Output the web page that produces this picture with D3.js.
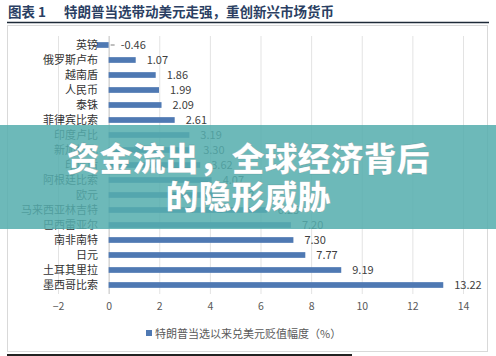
<!DOCTYPE html>
<html><head><meta charset="utf-8">
<script src="https://cdn.jsdelivr.net/npm/d3@7"></script>
<style>
html,body{margin:0;padding:0;background:#fff;}
svg{display:block;}
</style></head>
<body>
<svg id="c" width="496" height="356"></svg>
<script>
const categories = ["英镑","俄罗斯卢布","越南盾","人民币","泰铢","菲律宾比索","印度卢比","新加坡元","印尼盾","阿根廷比索","欧元","马来西亚林吉特","巴西雷亚尔","南非南特","日元","土耳其里拉","墨西哥比索"];
const values = [-0.46,1.07,1.86,1.99,2.09,2.61,3.19,3.30,3.62,4.07,4.48,6.25,7.20,7.30,7.77,9.19,13.22];
const tickValues = [-2,0,2,4,6,8,10,12,14];
const titleLabel = "图表 1";
const titleText = "特朗普当选带动美元走强，重创新兴市场货币";
const legendText = "特朗普当选以来兑美元贬值幅度（%）";
const bannerLines = ["资金流出，全球经济背后","的隐形威胁"];

const svg = d3.select("#c");
const font = "'Noto Sans CJK SC','Microsoft YaHei',sans-serif";

// title
svg.append("text").attr("x",8).attr("y",17).attr("font-family",font).attr("font-size",13.5)
  .attr("font-weight","bold").attr("fill","#2b3f63").text(titleLabel);
svg.append("text").attr("x",64).attr("y",17).attr("font-family",font).attr("font-size",13.5)
  .attr("font-weight","bold").attr("fill","#2b3f63").text(titleText);
svg.append("line").attr("x1",7).attr("x2",489).attr("y1",22.5).attr("y2",22.5)
  .attr("stroke","#1e2a38").attr("stroke-width",1.5);

// frame
svg.append("rect").attr("x",7.5).attr("y",25.5).attr("width",480).attr("height",326)
  .attr("fill","#fff").attr("stroke","#d9d9d9");

const x = d3.scaleLinear().domain([-2,14]).range([58,463]);
const y = d3.scaleBand().domain(categories).range([37.5,292.5]).paddingInner(0.62).paddingOuter(0.31);

// gridlines
svg.append("g").selectAll("line").data(tickValues).join("line")
  .attr("x1",d=>x(d)+0.5).attr("x2",d=>x(d)+0.5).attr("y1",36).attr("y2",294)
  .attr("stroke",d=>d===0?"#bfbfbf":"#e3e3e3").attr("stroke-width",1);

// x axis labels
const xa = svg.append("g").attr("transform","translate(0,294)")
  .call(d3.axisBottom(x).tickValues(tickValues).tickSize(0).tickPadding(9).tickFormat(d3.format("d")));
xa.select(".domain").remove();
xa.selectAll("text").attr("font-family",font).attr("font-size",10.5).attr("fill","#595959");

// bars
svg.append("g").selectAll("rect").data(values).join("rect")
  .attr("x",d=>x(Math.min(0,d))).attr("y",(d,i)=>y(categories[i]))
  .attr("width",d=>Math.abs(x(d)-x(0))).attr("height",y.bandwidth())
  .attr("fill","#4f79b3");

// value labels
svg.append("g").selectAll("text").data(values).join("text")
  .attr("x",d=>Math.max(x(d),x(0))+ (d<0?12:11)).attr("y",(d,i)=>y(categories[i])+y.bandwidth()/2+4)
  .attr("font-family",font).attr("font-size",11).attr("fill","#404040")
  .text(d=>d.toFixed(2));
// dash for negative
svg.append("line").attr("x1",x(0)+2).attr("x2",x(0)+6)
  .attr("y1",y(categories[0])+y.bandwidth()/2).attr("y2",y(categories[0])+y.bandwidth()/2)
  .attr("stroke","#7f7f7f");

// category labels
svg.append("g").selectAll("text").data(categories).join("text")
  .attr("x",98).attr("y",d=>y(d)+y.bandwidth()/2+4).attr("text-anchor","end")
  .attr("font-family",font).attr("font-size",11).attr("fill","#333")
  .text(d=>d);

// legend
svg.append("rect").attr("x",146).attr("y",330).attr("width",6).attr("height",6).attr("fill","#4f79b3");
svg.append("text").attr("x",155).attr("y",337.5).attr("font-family",font).attr("font-size",11)
  .attr("fill","#595959").text(legendText);

svg.append("line").attr("x1",7).attr("x2",352).attr("y1",355).attr("y2",355).attr("stroke","#222").attr("stroke-width",2);

// banner overlay
svg.append("rect").attr("x",0).attr("y",125).attr("width",496).attr("height",104)
  .attr("fill","#55adae").attr("fill-opacity",0.86);
const bf = svg.append("g");
bannerLines.forEach((t,i)=>{
  bf.append("text").attr("x",248).attr("y",171+i*38).attr("text-anchor","middle")
    .attr("font-family",font).attr("font-size",33).attr("font-weight","900")
    .attr("fill","#fff").attr("stroke","rgba(30,70,70,0.25)").attr("stroke-width",0.6)
    .text(t);
});
</script>
</body></html>
